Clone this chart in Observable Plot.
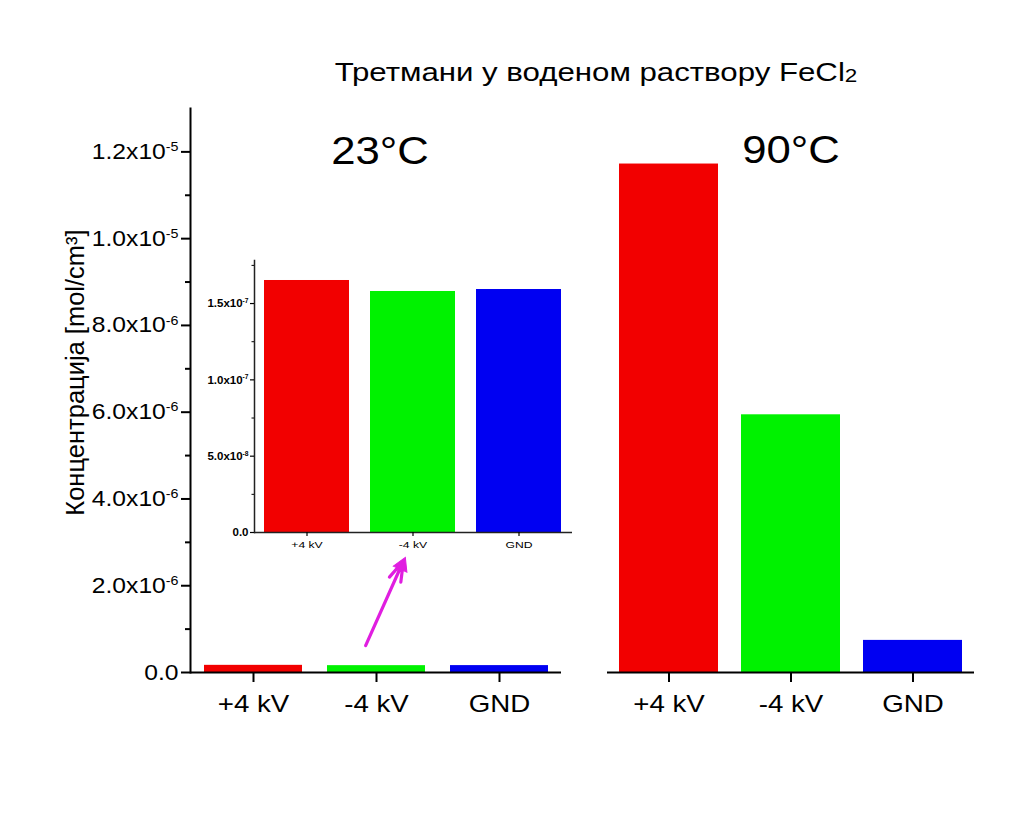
<!DOCTYPE html>
<html>
<head>
<meta charset="utf-8">
<script src="https://cdn.jsdelivr.net/npm/d3@7"></script>
<script src="https://cdn.jsdelivr.net/npm/@observablehq/plot@0.6"></script>
<style>
  html, body { margin: 0; padding: 0; background: #fff; }
  #wrap { position: relative; width: 1024px; height: 819px; overflow: hidden;
          font-family: Arial, "Liberation Sans", sans-serif; color: #000; }
  #wrap svg { position: absolute; left: 0; top: 0; overflow: visible; }
  #title { position: absolute; left: 596px; top: 59px; font-size: 26px; line-height: 26px;
           white-space: nowrap; transform: translateX(-50%) scaleX(1.2); transform-origin: center; }
  #title .sub { font-size: 0.72em; vertical-align: -0.06em; }
</style>
</head>
<body>
<div id="wrap">
  <div id="title">Третмани у воденом раствору FeCl<span class="sub">2</span></div>
</div>
<script>
// ---- data ----
const categories = ["+4 kV", "-4 kV", "GND"];
const colors = ["#f20000", "#00f200", "#0000f2"];
const conc23 = [1.651e-7, 1.579e-7, 1.592e-7];   // 23°C, mol/cm3
const conc90 = [1.172e-5, 5.94e-6, 7.4e-7];      // 90°C, mol/cm3
const mainTicks = [0, 2e-6, 4e-6, 6e-6, 8e-6, 1e-5, 1.2e-5];
const mainTickLabels = ["0.0", "2.0x10^-6", "4.0x10^-6", "6.0x10^-6", "8.0x10^-6", "1.0x10^-5", "1.2x10^-5"];
const mainMinorTicks = [1e-6, 3e-6, 5e-6, 7e-6, 9e-6, 1.1e-5];
const insetTicks = [0, 5e-8, 1e-7, 1.5e-7];
const insetTickLabels = ["0.0", "5.0x10^-8", "1.0x10^-7", "1.5x10^-7"];
const insetMinorTicks = [2.5e-8, 7.5e-8, 1.25e-7, 1.75e-7];
const panelTitles = ["23°C", "90°C"];
const yLabel = "Концентрација [mol/cm³]";
const mainDomain = [0, 1.3e-5];
const insetDomain = [0, 1.782e-7];
// arrow annotation (x as fraction of the left panel width, y in mol/cm3)
const arrowNote = [{x1: 0.472, y1: 6.2e-7, x2: 0.574, y2: 2.57e-6}];

// ---- tables ----
const rows23 = categories.map((c, i) => ({cat: c, value: conc23[i]}));
const rows90 = categories.map((c, i) => ({cat: c, value: conc90[i]}));

const W = 1024, H = 819;
const FONT = 'Arial, "Liberation Sans", sans-serif';
const baseStyle = {fontFamily: FONT, background: "transparent", color: "#000", overflow: "visible"};
const fmt = (ticks, labels) => v => labels[ticks.indexOf(v)] ?? "";
const colorScale = {domain: categories, range: colors};
const ARROW = "#e01ee0";

const left = Plot.plot({
  width: W, height: H,
  marginLeft: 190, marginRight: W - 561, marginTop: 108, marginBottom: H - 672,
  style: baseStyle,
  x: {domain: categories, paddingInner: 0.206, paddingOuter: 0.105, axis: null},
  y: {domain: mainDomain, axis: null},
  color: colorScale,
  marks: [
    Plot.barY(rows23, {x: "cat", y: "value", fill: "cat"}),
    Plot.ruleY([0], {stroke: "#000", strokeWidth: 2}),
    Plot.frame({anchor: "left", stroke: "#000", strokeWidth: 2}),
    Plot.axisY({ticks: mainTicks, tickSize: 9, tickPadding: 3, fontSize: 22,
                tickFormat: fmt(mainTicks, mainTickLabels), strokeWidth: 2, label: null}),
    Plot.axisY({ticks: mainMinorTicks, tickSize: 5, tickFormat: () => "", strokeWidth: 2, label: null}),
    Plot.axisX({tickSize: 10, tickPadding: 12, fontSize: 24.5, strokeWidth: 2, label: null}),
    Plot.text([panelTitles[0]], {text: d => d, frameAnchor: "top", dx: 4, dy: 28, fontSize: 39}),
    Plot.text([yLabel], {text: d => d, frameAnchor: "left", textAnchor: "middle", rotate: -90,
                         dx: -115, dy: -18, fontSize: 25.5})
  ]
});

const right = Plot.plot({
  width: W, height: H,
  marginLeft: 607, marginRight: W - 974, marginTop: 108, marginBottom: H - 672,
  style: baseStyle,
  x: {domain: categories, paddingInner: 0.189, paddingOuter: 0.0985, axis: null},
  y: {domain: mainDomain, axis: null},
  color: colorScale,
  marks: [
    Plot.barY(rows90, {x: "cat", y: "value", fill: "cat"}),
    Plot.ruleY([0], {stroke: "#000", strokeWidth: 2}),
    Plot.axisX({tickSize: 10, tickPadding: 12, fontSize: 24.5, strokeWidth: 2, label: null}),
    Plot.text([panelTitles[1]], {text: d => d, frameAnchor: "top", dx: 0, dy: 27, fontSize: 39})
  ]
});

const inset = Plot.plot({
  width: W, height: H,
  marginLeft: 254, marginRight: W - 572, marginTop: 260, marginBottom: H - 532,
  style: baseStyle,
  x: {domain: categories, paddingInner: 0.198, paddingOuter: 0.099, axis: null},
  y: {domain: insetDomain, axis: null},
  color: colorScale,
  marks: [
    Plot.barY(rows23, {x: "cat", y: "value", fill: "cat"}),
    Plot.ruleY([0], {stroke: "#222", strokeWidth: 1.5}),
    Plot.frame({anchor: "left", stroke: "#222", strokeWidth: 1.5}),
    Plot.axisY({ticks: insetTicks, tickSize: 4, tickPadding: 2, fontSize: 11.5, fontWeight: "bold",
                tickFormat: fmt(insetTicks, insetTickLabels), strokeWidth: 1.2, label: null}),
    Plot.axisY({ticks: insetMinorTicks, tickSize: 2.5, tickFormat: () => "", strokeWidth: 1, label: null}),
    Plot.axisX({tickSize: 4, tickPadding: 5, fontSize: 9, strokeWidth: 1.2, label: null})
  ]
});

const arrowLayer = Plot.plot({
  width: W, height: H,
  marginLeft: 190, marginRight: W - 561, marginTop: 108, marginBottom: H - 672,
  style: baseStyle,
  x: {domain: [0, 1], axis: null},
  y: {domain: mainDomain, axis: null},
  marks: [
    Plot.arrow(arrowNote, {x1: "x1", y1: "y1", x2: "x2", y2: "y2", stroke: ARROW,
                           strokeWidth: 3.2, headLength: 10, headAngle: 34, strokeLinejoin: "miter"}),
    Plot.dot(arrowNote, {x: "x2", y: "y2", symbol: "triangle", r: 5.5, rotate: 24,
                         fill: ARROW, stroke: ARROW, strokeWidth: 1, dx: -1.6, dy: 4.2})
  ]
});

const wrap = document.getElementById("wrap");
[left, right, inset, arrowLayer].forEach(s => wrap.appendChild(s));

// superscripts in tick labels ("a^b" -> a<sup>b</sup>)
d3.select(wrap).selectAll('g[aria-label="y-axis tick label"] text').each(function () {
  const t = this.textContent;
  if (t.includes("^")) {
    const [base, exp] = t.split("^");
    this.textContent = base;
    const sp = document.createElementNS("http://www.w3.org/2000/svg", "tspan");
    sp.setAttribute("font-size", "0.58em");
    sp.setAttribute("dy", "-0.62em");
    sp.textContent = exp;
    this.appendChild(sp);
  }
});

// horizontal stretch of text to match the reference's wide lettering
function stretch(nodes, f) {
  nodes.forEach(n => {
    const L = n.getComputedTextLength();
    if (L > 0) { n.setAttribute("textLength", (L * f).toFixed(1)); n.setAttribute("lengthAdjust", "spacingAndGlyphs"); }
  });
}
stretch([...left.querySelectorAll('g[aria-label="x-axis tick label"] text'),
         ...right.querySelectorAll('g[aria-label="x-axis tick label"] text')], 1.13);
stretch([...left.querySelectorAll('g[aria-label="y-axis tick label"] text')], 1.12);
stretch([...inset.querySelectorAll('g[aria-label="x-axis tick label"] text')], 1.35);
stretch([...left.querySelectorAll('g[aria-label="text"] text'),
         ...right.querySelectorAll('g[aria-label="text"] text')].filter(n => !(n.getAttribute("transform") || "").includes("rotate")), 1.12);
</script>
</body>
</html>
